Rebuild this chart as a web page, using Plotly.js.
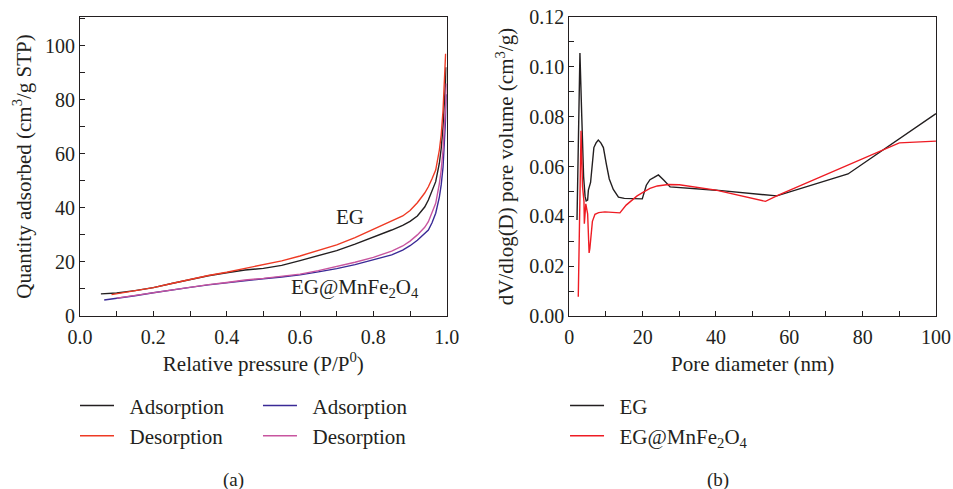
<!DOCTYPE html>
<html>
<head>
<meta charset="utf-8">
<script src="https://cdn.plot.ly/plotly-3.0.1.min.js"></script>
<style>
html,body{margin:0;padding:0;background:#fff;}
#chart{width:953px;height:489px;}
</style>
</head>
<body>
<div id="chart"></div>
<script>
// ---- Panel (a): N2 isotherms ----
const egAdsX = [0.057,0.1,0.15,0.2,0.25,0.3,0.35,0.4,0.45,0.5,0.55,0.6,0.65,0.7,0.75,0.8,0.85,0.88,0.9,0.92,0.94,0.95,0.96,0.97,0.98,0.985,0.99,0.994,0.997,0.998];
const egAdsY = [8.2,8.5,9.4,10.5,12.0,13.5,14.9,16.0,17.0,17.6,18.7,20.5,22.3,24.2,26.6,29.1,31.8,33.5,35.0,37.0,40.3,42.9,46.0,49.7,56.5,62,70,78,87,92];
const egDesX = [0.086,0.1,0.15,0.2,0.25,0.3,0.35,0.4,0.45,0.5,0.55,0.6,0.65,0.7,0.75,0.8,0.85,0.88,0.9,0.92,0.94,0.95,0.96,0.97,0.98,0.985,0.99,0.993,0.996,0.997];
const egDesY = [7.9,8.2,9.2,10.5,12.0,13.6,15.0,16.2,17.6,19.0,20.4,22.2,24.2,26.3,29.0,32.0,35.0,37.0,39.0,41.9,45.5,47.8,50.8,54.0,61.4,67,76,84,93,97];
const mfAdsX = [0.066,0.1,0.15,0.2,0.25,0.3,0.35,0.4,0.45,0.5,0.55,0.6,0.65,0.7,0.75,0.8,0.85,0.88,0.9,0.92,0.94,0.95,0.96,0.97,0.98,0.985,0.99,0.994,0.997,0.999];
const mfAdsY = [5.9,6.5,7.5,8.6,9.7,10.6,11.5,12.3,13.2,13.8,14.4,15.2,16.3,17.5,19.0,20.7,22.6,24.4,26.0,28.0,30.5,31.8,34.5,38.0,44.0,48.5,55.0,63,73,82];
const mfDesX = [0.1,0.15,0.2,0.25,0.3,0.35,0.4,0.45,0.5,0.55,0.6,0.65,0.7,0.75,0.8,0.85,0.88,0.9,0.92,0.94,0.95,0.96,0.97,0.98,0.985,0.99,0.994,0.997,0.999];
const mfDesY = [6.6,7.6,8.7,9.8,10.7,11.6,12.4,13.3,13.9,14.6,15.5,16.8,18.3,19.9,21.7,24.0,25.9,27.7,30.0,32.8,34.9,38.0,41.7,49.0,54.0,61.4,69,78,86];

// ---- Panel (b): pore size distribution ----
const egPoreX = [2.1,2.9,3.4,3.9,4.3,4.6,5.0,5.2,5.8,6.3,6.7,7.3,7.9,8.6,9.3,10.1,10.9,12.0,13.4,15,17,19.9,21.0,22.0,23.0,24.3,25.8,27.5,40,56.6,76,100];
const egPoreY = [0.0385,0.1056,0.080,0.056,0.048,0.0462,0.0465,0.0505,0.0536,0.061,0.0676,0.0695,0.0706,0.0695,0.0676,0.061,0.055,0.0508,0.0477,0.0472,0.0470,0.0470,0.0525,0.0547,0.0555,0.0566,0.0545,0.0518,0.0505,0.0482,0.0570,0.0812];
const mfPoreX = [2.45,3.2,3.6,4.0,4.1,4.5,5.0,5.2,5.4,5.6,5.9,6.3,7.0,8,9.7,12,13.8,15.5,17,18.5,20.2,22,24,27,30,40,53.5,57,90,100];
const mfPoreY = [0.0077,0.0743,0.052,0.046,0.037,0.045,0.041,0.030,0.0253,0.027,0.033,0.038,0.0408,0.0415,0.0418,0.0416,0.0414,0.0445,0.0465,0.0482,0.0497,0.0512,0.0522,0.0528,0.0527,0.0505,0.0460,0.0485,0.0695,0.0702];

const FONT = "'Liberation Serif', 'Times New Roman', serif";
const INK = "#231f20";
const SP = "\u00a0\u00a0";

const traces = [
  {x: egAdsX, y: egAdsY, name: SP + "Adsorption", mode: "lines", line: {color: "#231f20", width: 1.4}, xaxis: "x", yaxis: "y", legend: "legend", legendgroup: "a1"},
  {x: egDesX, y: egDesY, name: SP + "Desorption", mode: "lines", line: {color: "#ee3a24", width: 1.4}, xaxis: "x", yaxis: "y", legend: "legend", legendgroup: "a2"},
  {x: mfAdsX, y: mfAdsY, name: SP + "Adsorption", mode: "lines", line: {color: "#3a2a96", width: 1.4}, xaxis: "x", yaxis: "y", legend: "legend2", legendgroup: "a3"},
  {x: mfDesX, y: mfDesY, name: SP + "Desorption", mode: "lines", line: {color: "#c8559f", width: 1.4}, xaxis: "x", yaxis: "y", legend: "legend2", legendgroup: "a4"},
  {x: egPoreX, y: egPoreY, name: SP + "EG", mode: "lines", line: {color: "#231f20", width: 1.4}, xaxis: "x2", yaxis: "y2", legend: "legend3", legendgroup: "b1"},
  {x: mfPoreX, y: mfPoreY, name: SP + "EG@MnFe<sub>2</sub>O<sub>4</sub>", mode: "lines", line: {color: "#ee1c24", width: 1.4}, xaxis: "x2", yaxis: "y2", legend: "legend3", legendgroup: "b2"}
];

const tickFont = {family: FONT, size: 20, color: INK};
const titleFont = {family: FONT, size: 21, color: INK};

function axisBase(extra) {
  return Object.assign({
    showline: true, linecolor: INK, linewidth: 1, mirror: true,
    ticks: "inside", ticklen: 5, tickcolor: INK, tickwidth: 1,
    showgrid: false, zeroline: false,
    tickfont: tickFont
  }, extra);
}

const yDom = [0.3538, 0.9652];
const legendFont = {family: FONT, size: 21, color: INK};
const legendBase = {xanchor: "left", yanchor: "top", font: legendFont, traceorder: "grouped", tracegroupgap: 0, bgcolor: "rgba(0,0,0,0)", itemwidth: 34, y: 0.212};

const layout = {
  width: 953, height: 489,
  margin: {l: 0, r: 0, t: 0, b: 0},
  font: {family: FONT, size: 20, color: INK},
  paper_bgcolor: "#fff", plot_bgcolor: "#fff",
  showlegend: true,
  xaxis: axisBase({domain: [0.08395, 0.46873], range: [0, 1], dtick: 0.2, tickformat: ".1f", ticklabelstandoff: 3,
    minor: {ticks: "inside", dtick: 0.1, ticklen: 5, tickcolor: INK},
    title: {text: "Relative pressure (P/P<sup>0</sup>)", font: titleFont, standoff: 9},
    anchor: "y"}),
  yaxis: axisBase({domain: yDom, range: [0, 110.6], dtick: 20,
    minor: {ticks: "inside", dtick: 10, ticklen: 5, tickcolor: INK},
    title: {text: "Quantity adsorbed (cm<sup>3</sup>/g STP)", font: titleFont, standoff: 7},
    anchor: "x"}),
  xaxis2: axisBase({domain: [0.59738, 0.98216], range: [0, 100], dtick: 20, ticklabelstandoff: 3,
    minor: {ticks: "inside", dtick: 10, ticklen: 5, tickcolor: INK},
    title: {text: "Pore diameter (nm)", font: titleFont, standoff: 9},
    anchor: "y2"}),
  yaxis2: axisBase({domain: yDom, range: [0, 0.12], dtick: 0.02, tickformat: ".2f",
    minor: {ticks: "inside", dtick: 0.01, ticklen: 5, tickcolor: INK},
    title: {text: "dV/dlog(D) pore volume (cm<sup>3</sup>/g)", font: titleFont, standoff: 9},
    anchor: "x2"}),
  legend: Object.assign({x: 0.0787}, legendBase),
  legend2: Object.assign({x: 0.2707}, legendBase),
  legend3: Object.assign({x: 0.5929}, legendBase),
  annotations: [
    {x: 0.736, y: 36.6, xref: "x", yref: "y", text: "EG", showarrow: false, font: titleFont},
    {x: 0.75, y: 10.4, xref: "x", yref: "y", text: "EG@MnFe<sub>2</sub>O<sub>4</sub>", showarrow: false, font: titleFont},
    {x: 233/953, y: 0.018, xref: "paper", yref: "paper", text: "(a)", showarrow: false, font: {family: FONT, size: 19, color: INK}, xanchor: "center", yanchor: "middle"},
    {x: 718/953, y: 0.018, xref: "paper", yref: "paper", text: "(b)", showarrow: false, font: {family: FONT, size: 19, color: INK}, xanchor: "center", yanchor: "middle"}
  ]
};

Plotly.newPlot("chart", traces, layout, {displayModeBar: false, staticPlot: true});
</script>
</body>
</html>
